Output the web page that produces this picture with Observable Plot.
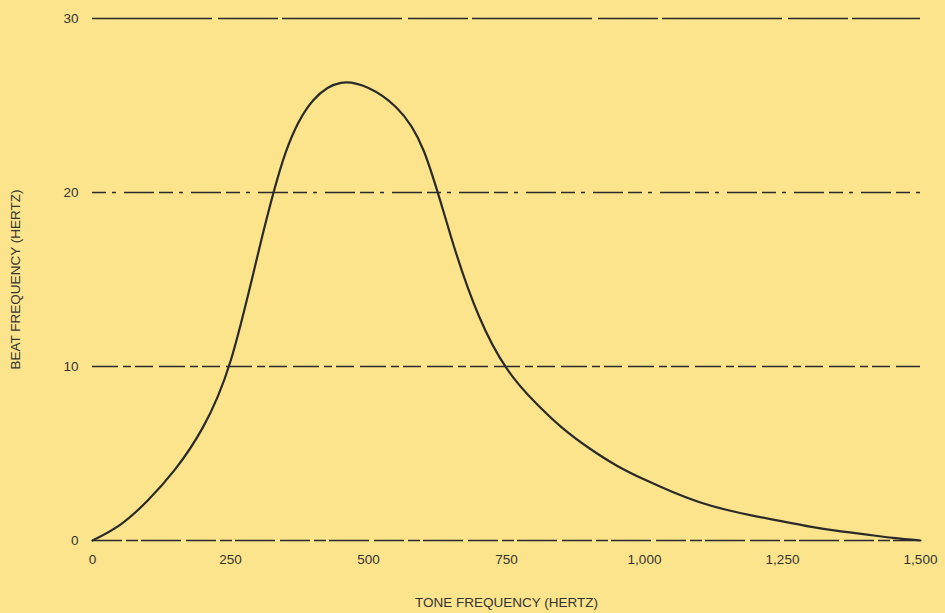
<!DOCTYPE html>
<html>
<head>
<meta charset="utf-8">
<script src="https://cdn.jsdelivr.net/npm/d3@7"></script>
<script src="https://cdn.jsdelivr.net/npm/@observablehq/plot@0.6"></script>
<style>
  html, body { margin: 0; padding: 0; background: #fce48c; }
  #chart { width: 945px; height: 613px; }
</style>
</head>
<body>
<div id="chart"></div>
<script>
const toneHz = [0, 50, 100, 150, 200, 250, 300, 350, 400, 450, 500, 550, 600, 650, 700, 750, 800, 850, 900, 950, 1000, 1050, 1100, 1150, 1200, 1250, 1300, 1350, 1400, 1450, 1500];
const beatHz = [0, 0.9, 2.3, 4.1, 6.5, 10.3, 16.5, 22.3, 25.3, 26.3, 26.0, 24.9, 22.4, 17.4, 12.9, 9.9, 8.0, 6.5, 5.3, 4.3, 3.5, 2.8, 2.2, 1.75, 1.4, 1.1, 0.8, 0.55, 0.35, 0.15, 0];
const xTicks = [0, 250, 500, 750, 1000, 1250, 1500];
const yTicks = [0, 10, 20, 30];
const gridDash = {0: "30,4,12,3,40,5", 10: "26,5,8,4,18,6", 20: "14,6,4,8,30,5", 30: "120,6,60,4"};

const data = toneHz.map((x, i) => ({x, y: beatHz[i]}));

const chart = Plot.plot({
  width: 945,
  height: 613,
  marginLeft: 92,
  marginRight: 25,
  marginTop: 18,
  marginBottom: 73,
  style: {background: "#fce48c", fontFamily: "Liberation Sans, Arial, sans-serif", fontSize: "13px", color: "#333"},
  x: {domain: [0, 1500]},
  y: {domain: [0, 30]},
  marks: [
    ...yTicks.map(t => Plot.ruleY([t], {stroke: "#2a2a2a", strokeWidth: 1.6, strokeDasharray: gridDash[t]})),
    Plot.line(data, {x: "x", y: "y", curve: "natural", stroke: "#2a2a2a", strokeWidth: 2.2}),
    Plot.axisX({ticks: xTicks, tickFormat: d3.format(","), tickSize: 0, tickPadding: 14, fill: "#333", fontSize: 13.5,
      label: "TONE FREQUENCY (HERTZ)", labelAnchor: "center", labelArrow: "none", labelOffset: 66}),
    Plot.axisY({ticks: yTicks, tickSize: 0, tickPadding: 14, fill: "#333", fontSize: 13.5,
      label: "BEAT FREQUENCY (HERTZ)", labelAnchor: "center", labelArrow: "none", labelOffset: 82})
  ]
});
document.getElementById("chart").appendChild(chart);
</script>
</body>
</html>
